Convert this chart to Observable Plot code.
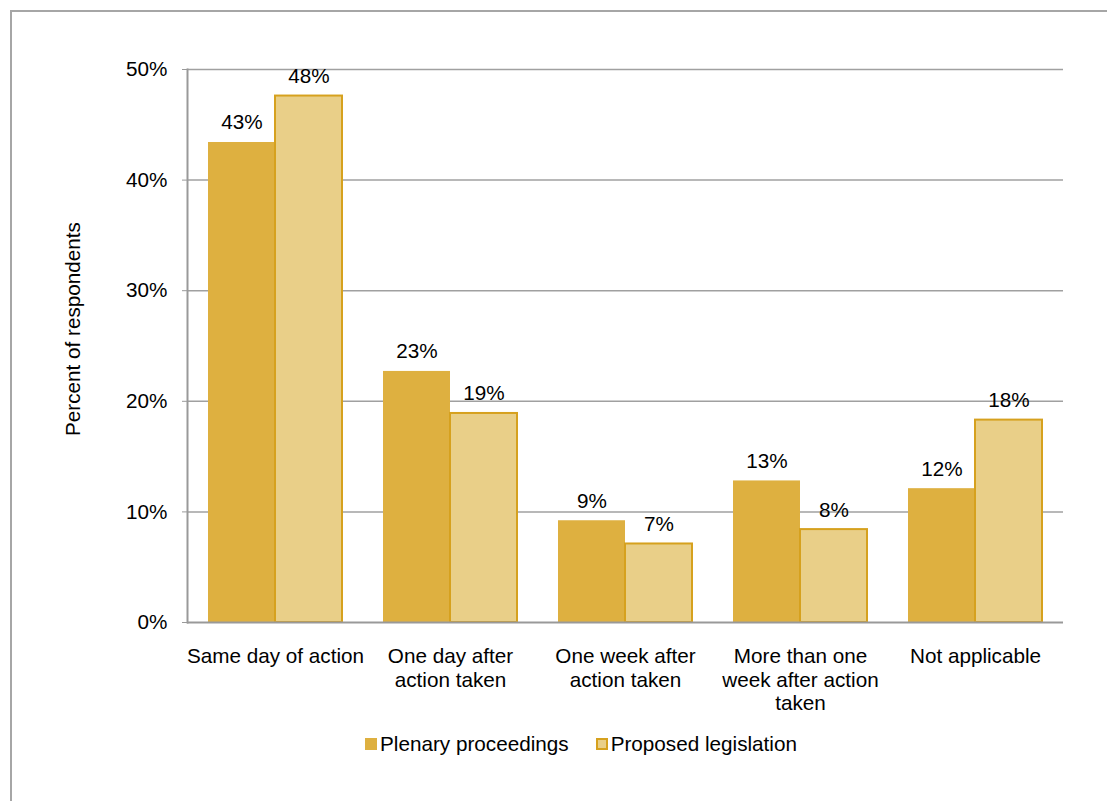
<!DOCTYPE html>
<html>
<head>
<meta charset="utf-8">
<script src="https://cdn.jsdelivr.net/npm/d3@7"></script>
<script src="https://cdn.jsdelivr.net/npm/@observablehq/plot@0.6"></script>
<style>
  html, body { margin: 0; padding: 0; background: #fff; overflow: hidden; }
  body { width: 1107px; height: 801px; position: relative; font-family: "Liberation Sans", Arial, sans-serif; color: #000; }
  #frame { position: absolute; left: 10px; top: 10px; width: 1300px; height: 1000px; border-left: 2px solid #a6a6a6; border-top: 2px solid #a6a6a6; box-sizing: border-box; }
  #bg, #fg { position: absolute; left: 0; top: 0; }
  #legend { position: absolute; left: 0; width: 1162px; top: 732px; height: 24px; display: flex; justify-content: center; align-items: center; font-size: 20.7px; }
  .item { display: flex; align-items: center; margin: 0 13.5px; }
  .sw { width: 12px; height: 12px; box-sizing: border-box; margin-right: 3px; }
</style>
</head>
<body>
<div id="frame"></div>
<div id="bg"></div>
<div id="fg"></div>
<div id="legend"></div>
<script>
const categories = ["Same day of action", "One day after action taken", "One week after action taken", "More than one week after action taken", "Not applicable"];
const categoryLabels = ["Same day of action", "One day after\naction taken", "One week after\naction taken", "More than one\nweek after action\ntaken", "Not applicable"];
const series = ["Plenary proceedings", "Proposed legislation"];
const plenary = [43.4, 22.7, 9.2, 12.8, 12.1];
const proposed = [47.6, 18.9, 7.1, 8.4, 18.3];
const yTicks = [0, 10, 20, 30, 40, 50];
const yTitle = "Percent of respondents";

const fills = ["#DEB040", "#E9CF88"];
const strokeProposed = "#D6A11E";
const FS = 20.7;

const data = [];
categories.forEach((c, i) => {
  data.push({cat: c, series: series[0], value: plenary[i]});
  data.push({cat: c, series: series[1], value: proposed[i]});
});
const labelMap = new Map(categories.map((c, i) => [c, categoryLabels[i]]));

const common = {
  width: 1107,
  height: 720,
  marginLeft: 187,
  marginRight: 44,
  marginTop: 69,
  marginBottom: 98,
  style: {fontFamily: "Liberation Sans, Arial, sans-serif", fontSize: FS + "px", color: "#000", background: "transparent", overflow: "visible"}
};
const bandPad = {paddingInner: 0.235, paddingOuter: 0.1175};

// Background: grid, axes, category labels
const bg = Plot.plot({
  ...common,
  x: {type: "band", domain: categories, ...bandPad, label: null},
  y: {domain: [0, 50], label: null},
  marks: [
    Plot.ruleY(yTicks.filter(d => d > 0), {stroke: "#a0a0a0", strokeWidth: 1.5}),
    Plot.axisY({ticks: yTicks, tickFormat: d => d + "%", tickSize: 5, tickPadding: 15, stroke: "#999", fontSize: FS, label: null}),
    Plot.axisX({tickSize: 0, tickPadding: 24, tickFormat: d => labelMap.get(d), lineHeight: 1.14, fontSize: FS, label: null}),
    Plot.text([yTitle], {text: d => d, frameAnchor: "left", rotate: -90, textAnchor: "middle", lineAnchor: "middle", dx: -114, dy: -17, fontSize: FS, fill: "#000"})
  ]
});
document.getElementById("bg").appendChild(bg);

// Foreground: grouped bars via fx facets
const fg = Plot.plot({
  ...common,
  fx: {domain: categories, ...bandPad, label: null, axis: null},
  x: {domain: series, padding: 0, axis: null},
  y: {domain: [0, 50], axis: null},
  color: {domain: series, range: fills},
  marks: [
    Plot.barY(data, {filter: d => d.series === series[0], fx: "cat", x: "series", y: "value", fill: "series"}),
    Plot.barY(data, {filter: d => d.series === series[1], fx: "cat", x: "series", y: "value", fill: "series", stroke: strokeProposed, strokeWidth: 2}),
    Plot.text(data, {fx: "cat", x: "series", y: "value", text: d => Math.round(d.value) + "%", lineAnchor: "bottom", dy: -13, fontSize: FS, fill: "#000"})
  ]
});
document.getElementById("fg").appendChild(fg);

// Axis lines drawn on top
const ax = Plot.plot({
  ...common,
  x: {type: "band", domain: categories, ...bandPad, axis: null},
  y: {domain: [0, 50], axis: null},
  marks: [
    Plot.ruleY([0], {stroke: "#999", strokeWidth: 2}),
    Plot.frame({anchor: "left", stroke: "#999", strokeWidth: 2})
  ]
});
ax.style.position = "absolute"; ax.style.left = "0"; ax.style.top = "0";
document.getElementById("fg").appendChild(ax);

const legend = document.getElementById("legend");
series.forEach((s, i) => {
  const item = document.createElement("div");
  item.className = "item";
  const sw = document.createElement("div");
  sw.className = "sw";
  sw.style.background = fills[i];
  if (i === 1) sw.style.border = "2px solid " + strokeProposed;
  const t = document.createElement("span");
  t.textContent = s;
  item.appendChild(sw);
  item.appendChild(t);
  legend.appendChild(item);
});
</script>
</body>
</html>
